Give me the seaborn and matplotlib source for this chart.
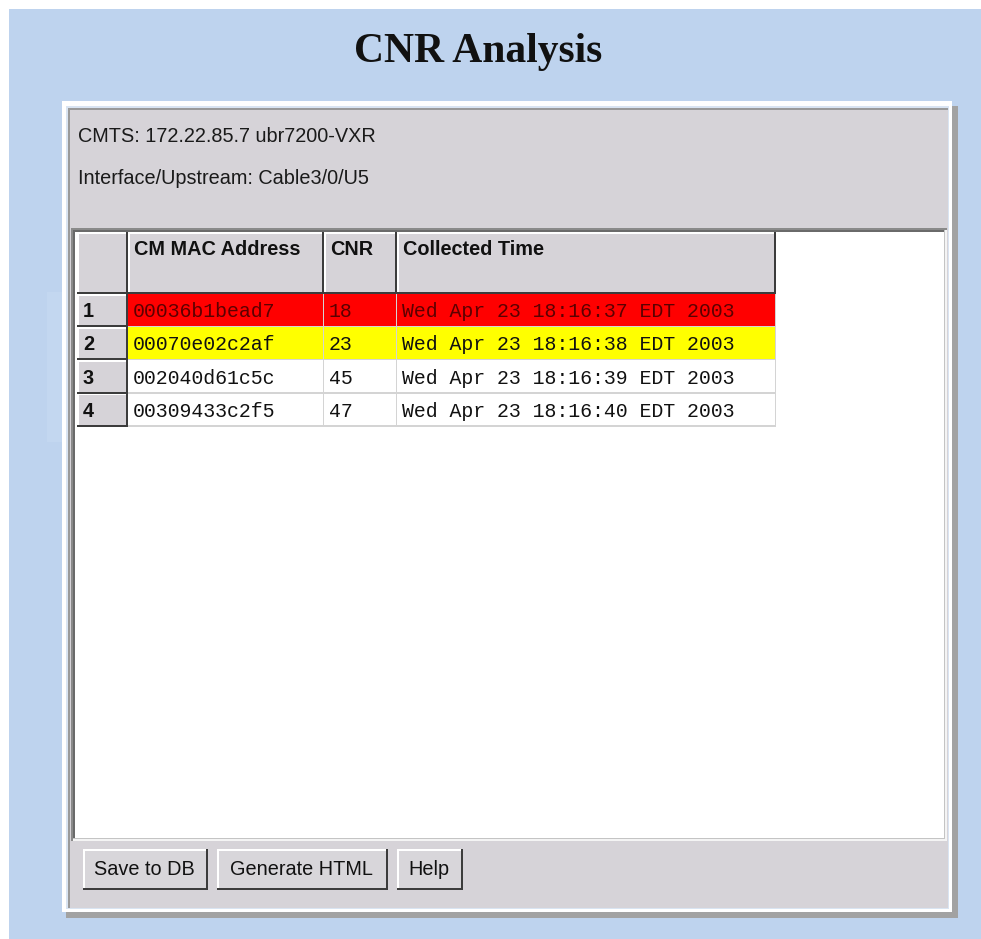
import matplotlib
matplotlib.use("Agg")
import matplotlib.pyplot as plt
from matplotlib.patches import Rectangle
import seaborn as sns

# window content
title = "CNR Analysis"
cmts_info = "CMTS: 172.22.85.7 ubr7200-VXR"
iface_info = "Interface/Upstream: Cable3/0/U5"
buttons = ["Save to DB", "Generate HTML", "Help"]

# table data
columns = ["CM MAC Address", "CNR", "Collected Time"]
row_ids = [1, 2, 3, 4]
mac_addresses = ["00036b1bead7", "00070e02c2af", "002040d61c5c", "00309433c2f5"]
cnr_values = [18, 23, 45, 47]
collected_times = [
    "Wed Apr 23 18:16:37 EDT 2003",
    "Wed Apr 23 18:16:38 EDT 2003",
    "Wed Apr 23 18:16:39 EDT 2003",
    "Wed Apr 23 18:16:40 EDT 2003",
]


def row_colour(cnr):
    # red = bad, yellow = marginal, white = ok
    if cnr < 20:
        return "#FF0000", "#5c0000"
    if cnr < 30:
        return "#FFFF00", "#111111"
    return "#FFFFFF", "#111111"


sns.set_theme(style="white")
plt.rcParams["font.family"] = ["Liberation Sans", "DejaVu Sans"]

W, H = 981, 939
fig = plt.figure(figsize=(W / 100, H / 100), dpi=100)
ax = fig.add_axes([0, 0, 1, 1])
ax.set_xlim(0, W)
ax.set_ylim(H, 0)
ax.axis("off")

GRAY = "#D6D3D8"
DARK = "#3c3c3c"


def box(x0, y0, x1, y1, color, z=1):
    ax.add_patch(Rectangle((x0, y0), x1 - x0, y1 - y0, facecolor=color,
                           edgecolor="none", lw=0, zorder=z))


def raised(x0, y0, x1, y1, fill=GRAY, dark=DARK, w=2, z=2):
    box(x0, y0, x1, y1, dark, z)
    box(x0, y0, x1 - w, y1 - w, "#FFFFFF", z)
    box(x0 + 1.5, y0 + 1.5, x1 - w, y1 - w, fill, z)


# page background
box(9, 9, W, H, "#BED3EE", 0)
box(47, 292, 62, 442, "#C3D7F0", 0)

# title
ax.text(478, 62, title, ha="center", va="baseline", fontsize=30,
        fontweight="bold", family="Liberation Serif", color="#111111")

# panel frame with shadow
box(66, 106, 958, 918, "#A2A2A2")
box(62, 101, 952, 912, "#FFFFFF")
box(66, 106, 949, 909, "#D9E4F2")
box(68, 108, 948, 908, "#9A9A9A")
box(70, 110, 948, 908, GRAY)

ax.text(78, 142, cmts_info, fontsize=14.3, va="baseline", color="#1a1a1a")
ax.text(78, 184, iface_info, fontsize=14.3, va="baseline", color="#1a1a1a")

# table viewport
box(71, 228, 947, 841, "#8a8a8a")
box(73, 230, 947, 841, "#F4F4F4")
box(73, 230, 945, 839, "#C4C4C4")
box(73, 230, 944, 838, "#6a6a6a")
box(75, 232, 944, 838, "#FFFFFF")

col_edges = [77, 128, 324, 397, 776]
head_top, head_bot = 232, 294
row_h = 33.2

# header
raised(col_edges[0], head_top, col_edges[1], head_bot)
for i, name in enumerate(columns):
    x0, x1 = col_edges[i + 1], col_edges[i + 2]
    raised(x0, head_top, x1, head_bot)
    ax.text(x0 + 6, 255, name, fontsize=14.3, fontweight="bold",
            va="baseline", color="#111111", zorder=5)

# rows
for r, rid in enumerate(row_ids):
    y0 = head_bot + r * row_h
    y1 = y0 + row_h
    fill, txt = row_colour(cnr_values[r])
    raised(col_edges[0], y0, col_edges[1], y1)
    ax.text(col_edges[0] + 6, (y0 + y1) / 2 + 1, str(rid), fontsize=14.3,
            fontweight="bold", va="center", color="#111111", zorder=5)
    cells = [mac_addresses[r], str(cnr_values[r]), collected_times[r]]
    for c, val in enumerate(cells):
        x0, x1 = col_edges[c + 1], col_edges[c + 2]
        box(x0, y0, x1, y1, "#D4D4D4", 2)
        box(x0, y0, x1 - 1.5, y1 - 1.5, fill, 2)
        ax.text(x0 + 5, (y0 + y1) / 2 + 1, val, fontsize=14.3,
                family="Liberation Mono", va="center", color=txt, zorder=5)

# buttons
btn_edges = [(83, 208), (217, 388), (397, 463)]
for label, (x0, x1) in zip(buttons, btn_edges):
    raised(x0, 849, x1, 890, fill="#D8D6DA", w=2.5)
    ax.text((x0 + x1) / 2 - 1, 869.5, label, ha="center", va="center",
            fontsize=14.3, color="#111111", zorder=5)

fig.savefig("out.png", dpi=100, facecolor="white")
